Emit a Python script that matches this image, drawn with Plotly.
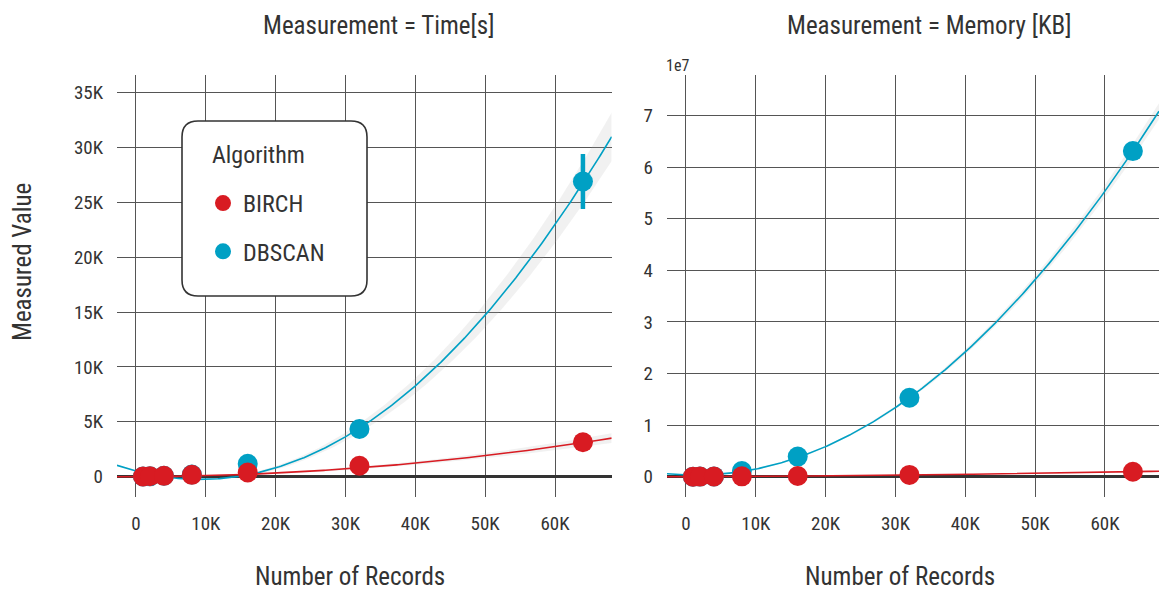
import numpy as np
import plotly.graph_objects as go

# ---- data -------------------------------------------------------------
records = [1000, 2000, 4000, 8000, 16000, 32000, 64000]
algorithms = ["BIRCH", "DBSCAN"]

x_ticks = [0, 10000, 20000, 30000, 40000, 50000, 60000]
x_tick_labels = ["0", "10K", "20K", "30K", "40K", "50K", "60K"]
time_ticks = [0, 5000, 10000, 15000, 20000, 25000, 30000, 35000]
time_tick_labels = ["0", "5K", "10K", "15K", "20K", "25K", "30K", "35K"]
memory_ticks = [0, 1e7, 2e7, 3e7, 4e7, 5e7, 6e7, 7e7]
memory_tick_labels = ["0", "1", "2", "3", "4", "5", "6", "7"]

# Time [s]: mean over runs and 95% CI half-width
time_birch = [20, 40, 80, 170, 380, 1000, 3140]
time_birch_err = [10, 20, 40, 60, 150, 300, 400]
time_dbscan = [15, 35, 90, 200, 1170, 4350, 26900]
time_dbscan_err = [10, 20, 40, 80, 400, 700, 2500]

# Memory [KB]: mean over runs and 95% CI half-width
memory_birch = [1.0e4, 2.0e4, 4.0e4, 8.0e4, 1.5e5, 3.5e5, 9.7e5]
memory_birch_err = [2e3, 4e3, 8e3, 1.5e4, 3e4, 6e4, 1.2e5]
memory_dbscan = [1.0e4, 2.5e4, 6.0e4, 1.1e6, 3.9e6, 1.53e7, 6.31e7]
memory_dbscan_err = [1e4, 2e4, 5e4, 1.5e5, 4e5, 8e5, 1.5e6]

# quadratic regression trends (highest power first, x in records)
time_birch_trend = [7.35e-7, 1.5e-3, 0.0]
time_dbscan_trend = [9.0e-6, -0.166, 520.0]
memory_birch_trend = [1.6e-4, 5.0, 0.0]
memory_dbscan_trend = [0.016034, -45.55, 338000.0]

# ---- style ------------------------------------------------------------
RED = "#d81b22"
BLUE = "#00a0c4"
INK = "#333333"
GRID = "#555555"
FONT = "Liberation Sans Narrow, Arial Narrow, Roboto Condensed, sans-serif"

W, H = 1159, 590
ML, MR, MT, MB = 117, 0, 75, 93
PW, PH = W - ML - MR, H - MT - MB


def px_x(p):
    return (p - ML) / PW


def px_y(p):
    return (H - MB - p) / PH


def trend_band(xs, err, trend, grid):
    """Trend line with a confidence band from the per-point CIs."""
    xk = np.asarray(xs, float) / 1000.0
    X = np.vander(xk, 3)
    w = (1.96 / np.asarray(err, float)) ** 2
    cov = np.linalg.inv(X.T @ (X * w[:, None]))
    G = np.vander(grid / 1000.0, 3)
    se = np.sqrt(np.einsum("ij,jk,ik->i", G, cov, G))
    return np.polyval(trend, grid), 1.96 * se


fig = go.Figure()

panels = [
    ("x", "y", (-2720, 68120), [
        ("BIRCH", RED, time_birch, time_birch_err, time_birch_trend),
        ("DBSCAN", BLUE, time_dbscan, time_dbscan_err, time_dbscan_trend),
    ]),
    ("x2", "y2", (-2720, 67740), [
        ("BIRCH", RED, memory_birch, memory_birch_err, memory_birch_trend),
        ("DBSCAN", BLUE, memory_dbscan, memory_dbscan_err, memory_dbscan_trend),
    ]),
]

for xa, ya, (lo, hi), series in panels:
    grid = np.linspace(lo, hi, 300)
    # bands first, then trend lines
    lines = []
    for name, color, vals, err, trend in series:
        centre, half = trend_band(records, err, trend, grid)
        fig.add_trace(go.Scatter(
            x=np.concatenate([grid, grid[::-1]]),
            y=np.concatenate([centre + half, (centre - half)[::-1]]),
            fill="toself", fillcolor="rgba(170,170,170,0.17)",
            line=dict(width=0), mode="lines", hoverinfo="skip",
            showlegend=False, xaxis=xa, yaxis=ya))
        lines.append((grid, centre, color))
    for g, c, color in lines[::-1]:
        fig.add_trace(go.Scatter(
            x=g, y=c, mode="lines", line=dict(color=color, width=1.6),
            hoverinfo="skip", showlegend=False, xaxis=xa, yaxis=ya))
    # DBSCAN points underneath, BIRCH on top
    for name, color, vals, err, trend in series[::-1]:
        fig.add_trace(go.Scatter(
            x=records, y=vals, mode="markers", name=name,
            marker=dict(color=color, size=20, line=dict(width=0)),
            error_y=dict(type="data", array=err, color=color,
                         thickness=4.5, width=0),
            legendgroup=name, legendrank=1 if name == "BIRCH" else 2,
            showlegend=(xa == "x"), xaxis=xa, yaxis=ya))

axis_common = dict(
    showgrid=True, gridcolor=GRID, gridwidth=1, showline=False, ticks="",
    tickfont=dict(family=FONT, size=19, color=INK), ticklabelstandoff=13,
)

fig.update_layout(
    width=W, height=H,
    margin=dict(l=ML, r=MR, t=MT, b=MB, pad=0),
    paper_bgcolor="white", plot_bgcolor="white",
    font=dict(family=FONT, color=INK),
    xaxis=dict(domain=[0, px_x(611.7)], range=[-2720, 68120],
               tickvals=x_ticks, ticktext=x_tick_labels, zeroline=False,
               **axis_common),
    xaxis2=dict(domain=[px_x(667), 1], range=[-2720, 67740],
                tickvals=x_ticks, ticktext=x_tick_labels, zeroline=False,
                anchor="y2", **axis_common),
    yaxis=dict(range=[-1850, 36600], tickvals=time_ticks,
               ticktext=time_tick_labels, zeroline=True,
               zerolinecolor="#333333", zerolinewidth=2.5, **axis_common),
    yaxis2=dict(range=[-3.93e6, 7.785e7], tickvals=memory_ticks,
                ticktext=memory_tick_labels, zeroline=True, anchor="x2",
                zerolinecolor="#333333", zerolinewidth=2.5, **axis_common),
    showlegend=True,
    legend=dict(
        x=px_x(203), y=px_y(181), xanchor="left", yanchor="top",
        bgcolor="rgba(0,0,0,0)", borderwidth=0,
        font=dict(family=FONT, size=24, color=INK),
        tracegroupgap=14, itemsizing="trace",
    ),
)

# rounded legend frame
x0, x1, y0, y1, r = 182, 367, 121, 296, 16
rx, ry = r / PW, r / PH
X0, X1, Y0, Y1 = px_x(x0), px_x(x1), px_y(y1), px_y(y0)
path = (f"M {X0 + rx},{Y0} L {X1 - rx},{Y0} Q {X1},{Y0} {X1},{Y0 + ry} "
        f"L {X1},{Y1 - ry} Q {X1},{Y1} {X1 - rx},{Y1} "
        f"L {X0 + rx},{Y1} Q {X0},{Y1} {X0},{Y1 - ry} "
        f"L {X0},{Y0 + ry} Q {X0},{Y0} {X0 + rx},{Y0} Z")
fig.add_shape(type="path", path=path, xref="paper", yref="paper",
              fillcolor="white", line=dict(color="#333333", width=1.6),
              layer="above")

annotations = [
    ("Measurement = Time[s]", 378, 25, 25, 0, "center"),
    ("Measurement = Memory [KB]", 929, 25, 25, 0, "center"),
    ("Number of Records", 350, 576, 25, 0, "center"),
    ("Number of Records", 900, 576, 25, 0, "center"),
    ("Measured Value", 22, 262, 25, -90, "center"),
    ("1e7", 677, 66, 16, 0, "center"),
    ("Algorithm", 210, 155, 24, 0, "left"),
]
for text, ax, ay, size, rot, anchor in annotations:
    fig.add_annotation(text=text, x=px_x(ax), y=px_y(ay), xref="paper",
                       yref="paper", showarrow=False, textangle=rot,
                       xanchor=anchor, yanchor="middle",
                       font=dict(family=FONT, size=size, color=INK))

fig.write_html("out.html")
